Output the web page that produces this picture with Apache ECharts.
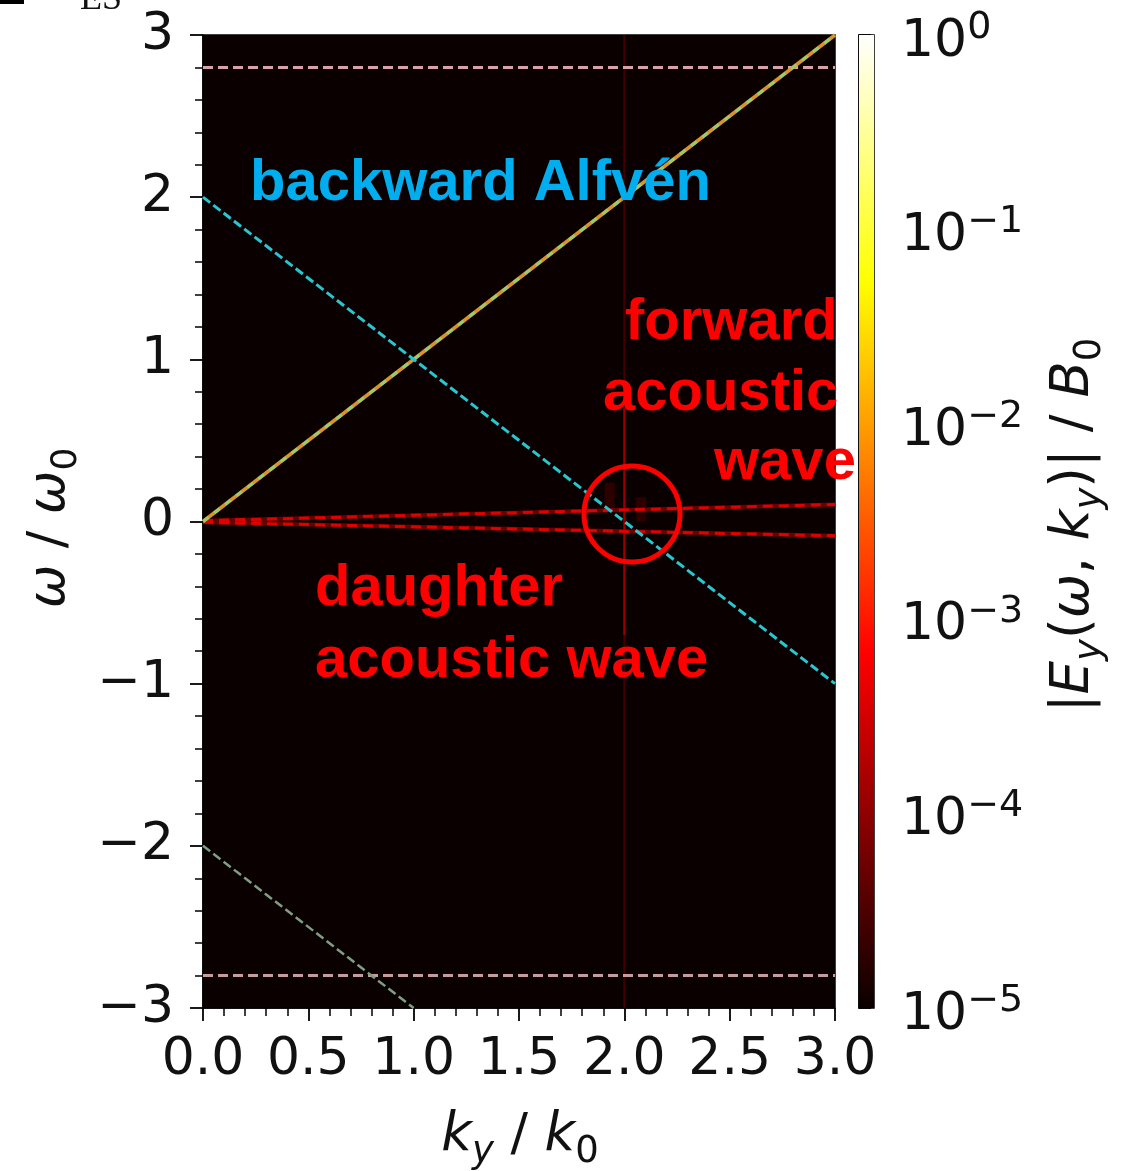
<!DOCTYPE html>
<html>
<head>
<meta charset="utf-8">
<script src="https://cdn.jsdelivr.net/npm/echarts@6/dist/echarts.min.js"></script>
<style>
html,body{margin:0;padding:0;background:#fff;}
#chart{width:1130px;height:1171px;}
</style>
</head>
<body>
<div id="chart"></div>
<script>
// ---- data (k_y / k_0 , omega / omega_0) ----
const xTicks = [0, 0.5, 1.0, 1.5, 2.0, 2.5, 3.0];
const yTicks = [-3, -2, -1, 0, 1, 2, 3];
const cbarTicks = [1e-5, 1e-4, 1e-3, 1e-2, 1e-1, 1];
const forwardAlfven = [[0, 0], [3, 3]];
const backwardAlfven = [[0, 2], [3, -1]];
const backwardAlias = [[0, -2], [1, -3]];
const cutoffUpper = [[0, 2.8], [3, 2.8]];
const cutoffLower = [[0, -2.8], [3, -2.8]];
const acousticForward = [[0, 0.005], [3, 0.105]];
const acousticDaughter = [[0, -0.005], [3, -0.088]];
const pumpLine = [[2, -3], [2, 3]];
const pumpCore = [[2, -0.7], [2, 0.7]];
const spreadA = [[1.93, 0.24], [1.93, 0.06]];
const spreadB = [[2.08, 0.15], [2.08, 0.0]];
const hotStops = [[0, '#0b0000'], [0.365, '#ff0000'], [0.746, '#ffff00'], [1, '#ffffff']];

const FONT = 'DejaVu Sans';
const chart = echarts.init(document.getElementById('chart'));

function lineSeries(data, color, width, type, z) {
  return {
    type: 'line', data: data, xAxisIndex: 0, yAxisIndex: 0,
    symbol: 'none', silent: true, z: z || 2, animation: false,
    lineStyle: { color: color, width: width, type: type || 'solid', cap: 'butt' }
  };
}

const tickLabelStyle = { fontFamily: FONT, fontSize: 52, color: '#111' };

const option = {
  animation: false,
  backgroundColor: '#ffffff',
  grid: [
    { left: 203, top: 35, width: 632, height: 973, show: true, backgroundColor: '#0a0000', borderColor: '#000', borderWidth: 1.5 },
    { left: 859, top: 35, width: 15, height: 973, show: true, backgroundColor: 'transparent', borderColor: '#000', borderWidth: 1.5 }
  ],
  xAxis: [
    {
      gridIndex: 0, type: 'value', min: xTicks[0], max: xTicks[xTicks.length - 1], interval: 0.5,
      axisLine: { show: true, onZero: false, lineStyle: { color: '#000', width: 1.5 } },
      axisTick: { show: true, length: 13, lineStyle: { color: '#000', width: 1.8 } },
      minorTick: { show: true, splitNumber: 5, length: 8, lineStyle: { color: '#000', width: 1.5 } },
      splitLine: { show: false }, minorSplitLine: { show: false },
      axisLabel: Object.assign({ margin: 26, formatter: v => v.toFixed(1) }, tickLabelStyle)
    },
    { gridIndex: 1, type: 'value', min: 0, max: 1, show: false }
  ],
  yAxis: [
    {
      gridIndex: 0, type: 'value', min: yTicks[0], max: yTicks[yTicks.length - 1], interval: 1,
      axisLine: { show: true, onZero: false, lineStyle: { color: '#000', width: 1.5 } },
      axisTick: { show: true, length: 13, lineStyle: { color: '#000', width: 1.8 } },
      minorTick: { show: true, splitNumber: 5, length: 8, lineStyle: { color: '#000', width: 1.5 } },
      splitLine: { show: false }, minorSplitLine: { show: false },
      axisLabel: Object.assign({ margin: 29, formatter: v => (v < 0 ? '\u2212' + (-v) : '' + v) }, tickLabelStyle)
    },
    {
      gridIndex: 1, type: 'log', logBase: 10, min: cbarTicks[0], max: cbarTicks[cbarTicks.length - 1],
      position: 'right',
      axisLine: { show: true, lineStyle: { color: '#000', width: 1.5 } },
      axisTick: { show: true, length: 12, lineStyle: { color: '#000', width: 1.8 } },
      minorTick: { show: false }, splitLine: { show: false },
      axisLabel: {
        margin: 27, showMinLabel: true, showMaxLabel: true,
        formatter: v => {
          const e = Math.round(Math.log10(v));
          return '{b|10}{s|' + (e < 0 ? '\u2212' + (-e) : e) + '}';
        },
        rich: {
          b: { fontFamily: FONT, fontSize: 52, color: '#111', lineHeight: 52, padding: [14, 0, 0, 0] },
          s: { fontFamily: FONT, fontSize: 38, color: '#111', lineHeight: 38, verticalAlign: 'top' }
        }
      }
    }
  ],
  series: [
    {
      type: 'custom', xAxisIndex: 1, yAxisIndex: 1, silent: true, z: 1,
      data: [[0, cbarTicks[0]]],
      renderItem: function (params, api) {
        const p0 = api.coord([0, cbarTicks[0]]);
        const p1 = api.coord([1, cbarTicks[cbarTicks.length - 1]]);
        return {
          type: 'rect',
          shape: { x: p0[0], y: p1[1], width: p1[0] - p0[0], height: p0[1] - p1[1] },
          style: {
            fill: { type: 'linear', x: 0, y: 1, x2: 0, y2: 0, colorStops: hotStops.map(s => ({ offset: s[0], color: s[1] })) }
          }
        };
      }
    },
    lineSeries(pumpLine, '#420000', 2, 'solid', 2),
    lineSeries(pumpCore, '#9a0000', 2, 'solid', 2),
    lineSeries(spreadA, 'rgba(150,0,0,0.25)', 10, 'solid', 2),
    lineSeries(spreadB, 'rgba(150,0,0,0.25)', 10, 'solid', 2),
    lineSeries(cutoffUpper, '#d9a2aa', 3, [10, 5], 3),
    lineSeries(cutoffLower, '#c79aa0', 3, [10, 5], 3),
    lineSeries(backwardAlias, '#7f9f80', 2.5, [9, 4], 3),
    lineSeries(acousticForward, '#6a0000', 4, 'solid', 3),
    lineSeries(acousticForward, '#e00000', 3, [10, 6], 4),
    lineSeries(acousticDaughter, '#6a0000', 4, 'solid', 3),
    lineSeries(acousticDaughter, '#e00000', 3, [10, 6], 4),
    lineSeries(forwardAlfven, '#d8942a', 3.5, 'solid', 5),
    lineSeries(forwardAlfven, '#9acb6e', 3, [7, 7], 6),
    lineSeries(backwardAlfven, '#29c6cf', 3, [9, 4], 6)
  ],
  graphic: [
    { type: 'rect', shape: { x: 0, y: 0, width: 24, height: 4 }, style: { fill: '#000' } },
    { type: 'text', x: 80, y: 0, style: { text: 'ES', font: '36px "Liberation Serif"', fill: '#111', textAlign: 'left', textVerticalAlign: 'middle' } },
    {
      type: 'text', x: 50, y: 528, rotation: Math.PI / 2, z: 10,
      style: {
        text: '{i|\u03c9} / {i|\u03c9}{sub|0}', fontFamily: FONT, fontSize: 52, fill: '#111',
        align: 'center', verticalAlign: 'middle',
        rich: {
          i: { fontFamily: FONT, fontStyle: 'italic', fontSize: 52, lineHeight: 70 },
          sub: { fontFamily: FONT, fontSize: 36, lineHeight: 70, verticalAlign: 'bottom' }
        }
      }
    },
    {
      type: 'text', x: 520, y: 1136, z: 10,
      style: {
        text: '{i|k}{is|y} / {i|k}{sub|0}', fontFamily: FONT, fontSize: 52, fill: '#111',
        align: 'center', verticalAlign: 'middle',
        rich: {
          i: { fontFamily: FONT, fontStyle: 'italic', fontSize: 53, lineHeight: 70 },
          is: { fontFamily: FONT, fontStyle: 'italic', fontSize: 37, lineHeight: 70, verticalAlign: 'bottom' },
          sub: { fontFamily: FONT, fontSize: 37, lineHeight: 70, verticalAlign: 'bottom' }
        }
      }
    },
    {
      type: 'text', x: 1074, y: 525, rotation: Math.PI / 2, z: 10,
      style: {
        text: '|{i|E}{is|y}({i|\u03c9}, {i|k}{is|y})| / {i|B}{sub|0}', fontFamily: FONT, fontSize: 53, fill: '#111',
        align: 'center', verticalAlign: 'middle',
        rich: {
          i: { fontFamily: FONT, fontStyle: 'italic', fontSize: 53, lineHeight: 70 },
          is: { fontFamily: FONT, fontStyle: 'italic', fontSize: 37, lineHeight: 70, verticalAlign: 'bottom' },
          sub: { fontFamily: FONT, fontSize: 37, lineHeight: 70, verticalAlign: 'bottom' }
        }
      }
    },
    { type: 'text', x: 250, y: 184, z: 20, style: { text: 'backward Alfv\u00e9n', font: 'bold 58px "Liberation Sans"', fill: '#00aeef', textAlign: 'left', textVerticalAlign: 'middle' } },
    { type: 'text', x: 625, y: 323, z: 20, style: { text: 'forward', font: 'bold 58px "Liberation Sans"', fill: '#ff0000', textAlign: 'left', textVerticalAlign: 'middle' } },
    { type: 'text', x: 603, y: 394, z: 20, style: { text: 'acoustic', font: 'bold 58px "Liberation Sans"', fill: '#ff0000', textAlign: 'left', textVerticalAlign: 'middle' } },
    { type: 'text', x: 714, y: 463, z: 20, style: { text: 'wave', font: 'bold 58px "Liberation Sans"', fill: '#ff0000', textAlign: 'left', textVerticalAlign: 'middle' } },
    { type: 'text', x: 315, y: 589, z: 20, style: { text: 'daughter', font: 'bold 58px "Liberation Sans"', fill: '#ff0000', textAlign: 'left', textVerticalAlign: 'middle' } },
    { type: 'text', x: 315, y: 661, z: 20, style: { text: 'acoustic wave', font: 'bold 58px "Liberation Sans"', fill: '#ff0000', textAlign: 'left', textVerticalAlign: 'middle' } },
    { type: 'circle', z: 20, shape: { cx: 632, cy: 514, r: 48 }, style: { fill: 'none', stroke: '#ff0000', lineWidth: 5 } }
  ]
};
chart.setOption(option);
</script>
</body>
</html>
